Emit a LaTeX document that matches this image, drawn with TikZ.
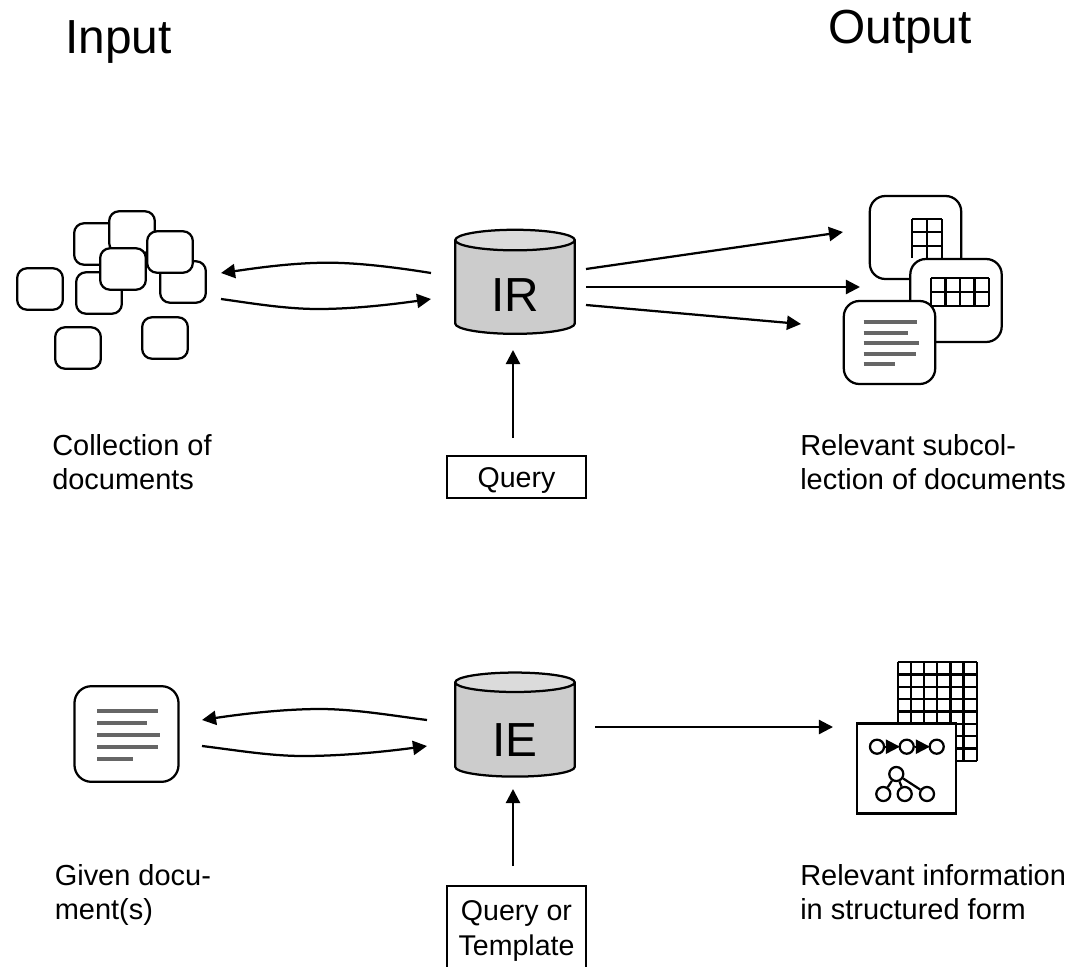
\documentclass[tikz,border=0pt]{standalone}
\usepackage{fontspec}
\setmainfont{Liberation Sans}
\usetikzlibrary{arrows.meta, positioning, shapes.geometric}
\tikzset{>={Stealth[inset=0pt,length=10pt,width=10pt]}}
\tikzset{
	small doc/.style={draw, fill=white, line width=1.6pt, rounded corners=7pt, minimum width=32.5pt, minimum height=29.5pt, inner sep=0pt},
	big doc/.style={draw, fill=white, line width=1.6pt, rounded corners=11pt, minimum width=65pt, minimum height=59pt, inner sep=0pt},
	db/.style={draw, cylinder, shape border rotate=90, aspect=0.43, cylinder uses custom fill, cylinder body fill=black!20, cylinder end fill=black!14, line width=1.6pt, minimum width=85pt, minimum height=74pt, inner sep=0pt, font=\fontsize{34}{34}\selectfont},
	flow/.style={->, line width=1.6pt},
	label/.style={align=left, anchor=north west, inner sep=0pt, font=\fontsize{20.6}{24.6}\selectfont},
	heading/.style={anchor=base west, inner sep=0pt, font=\fontsize{34}{34}\selectfont},
	querybox/.style={draw, line width=1.6pt, inner sep=0pt, align=center, font=\fontsize{20.3}{24.6}\selectfont},
	textline/.style={line width=2.9pt, black!60},
	gridline/.style={line width=1.6pt},
	dot/.style={draw, circle, fill=white, line width=1.6pt, minimum size=10pt, inner sep=0pt},
	dot arrow/.style={line width=1.4pt, -{Triangle[length=10pt,width=10pt]}, shorten >=-1pt},
}
\begin{document}
\begin{tikzpicture}[x=0.025cm, y=-0.025cm]
		\useasboundingbox (0,0) rectangle (1070,966);
		
		\node[heading] (input) at (65,54) {Input};
		\node[heading] (output) at (828,44) {Output};
		
		% documents on the left
		\foreach \name/\x/\y in {d1/97/244, d2/132/232, d4/183/282, d6/99/293, d3/170/252, d7/123/269, d5/40/289, d8/78/348, d9/165/338}
			\node[small doc] (\name) at (\x,\y) {};
		
		\node[db] (IR) at (515,287.5) {\raisebox{-17pt}[0pt][0pt]{IR}};
		\node[db] (IE) at (515,730) {\raisebox{-19pt}[0pt][0pt]{IE}};
		
		\coordinate (a1) at (431,273);
		\coordinate (a2) at (221,273);
		\coordinate (a3) at (221,299);
		\coordinate (a4) at (431,299);
		\draw[flow] (a1) .. controls (400,268) and (360,262.7) .. (328,262.7) .. controls (290,262.7) and (250,269) .. (a2);
		\draw[flow] (a3) .. controls (250,303) and (285,309) .. (318,309) .. controls (355,309) and (395,304) .. (a4);
		
		% relevant documents
		\node[big doc] (A) at (915.5,237.5) {};
		\foreach \x in {912,927,942}
			\draw[gridline] (\x,219) -- (\x,258);
		\foreach \y in {219,232.3,245.7}
			\draw[gridline] (912,\y) -- (942,\y);
		\node[big doc] (B) at (956,300.5) {};
		\foreach \x in {931,945.5,960,974.5,989}
			\draw[gridline] (\x,278) -- (\x,306);
		\foreach \y in {278,292,306}
			\draw[gridline] (931,\y) -- (989,\y);
		\node[big doc] (C) at (889.5,342.5) {};
		\foreach \y/\xend in {322.3/917, 332.7/907.7, 343.3/918.7, 353.7/916.3, 364/895}
			\draw[textline] (863.7,\y) -- (\xend,\y);
		
		\coordinate (r1) at (586,269);
		\coordinate (r2) at (843,232);
		\coordinate (r3) at (586,287);
		\coordinate (r4) at (860,287);
		\coordinate (r5) at (586,305);
		\coordinate (r6) at (801,324);
		\draw[flow] (r1) -- (r2);
		\draw[flow] (r3) -- (r4);
		\draw[flow] (r5) -- (r6);
		
		\node[querybox, minimum width=98.5pt, minimum height=29.8pt, text height=20pt, text depth=4.4pt] (query) at (516.5,477) {Query};
		\coordinate (q1) at (513,438);
		\coordinate (q1t) at (513,350);
		\draw[flow] (q1) -- (q1t);
		
		\node[label] (coll) at (52,434) {Collection of\\documents};
		\node[label] (rel) at (800,434) {Relevant subcol-\\lection of documents};
		
		% second row
		\node[big doc, rounded corners=12pt, minimum width=74pt, minimum height=68pt] (G) at (126.5,734) {};
		\foreach \y/\xend in {711/158, 723/147, 735/160, 747.3/157.7, 759/132.7}
			\draw[textline] (97,\y) -- (\xend,\y);
		
		\coordinate (b1) at (427,720);
		\coordinate (b2) at (202,720);
		\coordinate (b3) at (202,746);
		\coordinate (b4) at (427,746);
		\draw[flow] (b1) .. controls (395,716) and (355,709) .. (320,709) .. controls (280,709) and (235,715) .. (b2);
		\draw[flow] (b3) .. controls (235,750) and (270,756) .. (303,756) .. controls (345,756) and (390,751) .. (b4);
		
		\coordinate (e1) at (595,727);
		\coordinate (e2) at (833,727);
		\draw[flow] (e1) -- (e2);
		
		% structured form
		\foreach \x in {897.7,910.9,924,937.2,950.4,963.5,976.7}
			\draw[gridline] (\x,662.3) -- (\x,760.7);
		\foreach \y in {662.3,674.6,686.9,699.2,711.5,723.8,736.1,748.4,760.7}
			\draw[gridline] (897.7,\y) -- (976.7,\y);
		\node[draw, fill=white, line width=1.6pt, minimum width=70.5pt, minimum height=64pt, inner sep=0pt] (S) at (906.5,768.5) {};
		\node[dot] (c1) at (877,746.7) {};
		\node[dot] (c2) at (906.7,746.7) {};
		\node[dot] (c3) at (936.7,746.7) {};
		\draw[dot arrow] (c1) -- (c2);
		\draw[dot arrow] (c2) -- (c3);
		\node[dot] (t0) at (896.3,774) {};
		\node[dot] (t1) at (883.3,794) {};
		\node[dot] (t2) at (904.7,794) {};
		\node[dot] (t3) at (927,794) {};
		\draw[line width=1.6pt] (t0) -- (t1) (t0) -- (t2) (t0) -- (t3);
		
		\node[querybox, minimum width=98.5pt, minimum height=64pt, anchor=north] (templ) at (516.5,885) {Query or\\Template};
		\coordinate (q2) at (513,866);
		\coordinate (q2t) at (513,789);
		\draw[flow] (q2) -- (q2t);
		
		\node[label] (given) at (54.5,864) {Given docu-\\ment(s)};
		\node[label] (info) at (800,864) {Relevant information\\in structured form};
		\end{tikzpicture}
\end{document}
